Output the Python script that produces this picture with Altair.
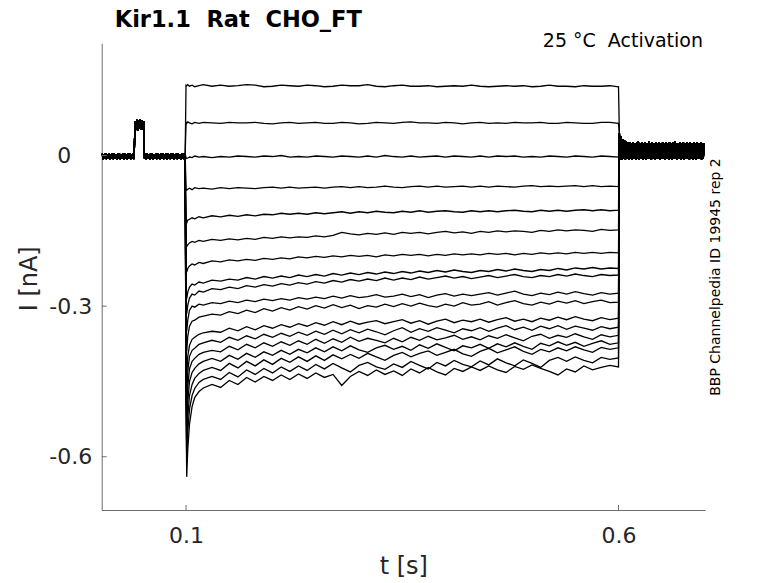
import altair as alt
import pandas as pd

# ---------------- data ----------------
# sample times (s)
T_EARLY = [0.1, 0.1008, 0.102, 0.104, 0.107, 0.110, 0.115, 0.120, 0.130]
T_STEP = T_EARLY + [round(0.14 + 0.01 * i, 3) for i in range(47)]
T_BASE = [round(0.003 + 0.001 * i, 4) for i in range(97)]
T_TAIL = [round(0.601 + 0.001 * i, 4) for i in range(99)]

# holding baseline with test pulse (shared by all sweeps), nA
BASELINE = [
    .004, -.007, .003, -.006, .005, -.007, .003, -.005, .004, -.008,
    .003, -.006, .005, -.007, .004, -.006, .003, -.007, .005, -.006,
    .004, -.007, .003, -.006, .005, -.008, .004, -.006, .003, -.007,
    .004, -.006, .005, -.007, .003, -.006, .004, -.007,
    .068, .052, .071, .050, .069, .053, .072, .051, .070, .052, .068,
    -.006, .004, -.007, .005, -.006, .003, -.008, .004, -.006, .005,
    -.007, .003, -.006, .004, -.007, .005, -.006, .003, -.007, .004,
    -.006, .005, -.007, .003, -.006, .004, -.008, .005, -.006, .003,
    -.007, .004, -.006, .005, -.007, .003, -.006, .004, -.007, .005,
    -.006, .003, -.007, .004, -.006, .005, -.007, .002,
]

# tail after the step (shared), nA
TAIL = [
    .045, -.008, .038, -.009, .033, -.007, .030, -.008, .028, -.006,
    .026, -.008, .027, -.007, .025, -.009, .027, -.006, .024, -.008,
    .026, -.007, .028, -.008, .025, -.006, .027, -.009, .024, -.007,
    .026, -.008, .025, -.006, .028, -.007, .024, -.009, .026, -.006,
    .025, -.008, .027, -.007, .024, -.006, .026, -.009, .025, -.007,
    .027, -.006, .024, -.008, .026, -.007, .025, -.009, .027, -.006,
    .024, -.008, .026, -.007, .028, -.006, .024, -.008, .025, -.007,
    .026, -.009, .024, -.006, .027, -.008, .025, -.007, .026, -.006,
    .024, -.008, .027, -.007, .025, -.009, .026, -.006, .024, -.008,
    .026, -.007, .025, -.006, .027, -.008, .024, -.007, .025,
]

# step currents for each sweep, nA (values at T_STEP)
sweep01 = [.140, .139, .141, .138, .140, .137, .139, .141, .138,
           .140, .138, .139, .141, .140, .137, .138, .140, .139, .138,
           .140, .139, .137, .138, .140, .139, .139, .141, .138, .137,
           .139, .140, .138, .138, .139, .137, .138, .139, .138, .140,
           .138, .137, .138, .139, .138, .139, .137, .138, .140, .138,
           .138, .137, .139, .138, .138, .139, .137]
sweep02 = [.066, .064, .067, .065, .063, .066, .064, .066, .065,
           .064, .066, .065, .065, .066, .064, .063, .065, .066, .064,
           .065, .066, .064, .064, .066, .065, .063, .064, .066, .065,
           .064, .066, .067, .065, .065, .064, .066, .065, .063, .065,
           .066, .064, .065, .064, .066, .065, .065, .066, .064, .064,
           .066, .065, .064, .064, .066, .066, .064]
sweep03 = [-.004, -.006, -.005, -.003, -.004, -.001, -.003, -.002, -.004,
           -.002, -.003, -.001, -.002, -.003, -.001, -.002, .000, -.003, -.002,
           -.003, -.001, -.002, -.003, -.001, -.002, -.003, -.001, -.003, .000,
           -.002, -.003, -.001, -.003, -.002, -.001, -.003, -.001, -.002, -.003,
           -.001, -.003, -.001, -.002, -.001, -.003, -.002, -.003, -.001, -.002,
           -.003, -.001, -.002, -.003, -.001, -.002, -.003]
sweep04 = [-.066, -.069, -.067, -.065, -.068, -.064, -.066, -.065, -.067,
           -.064, -.066, -.064, -.065, -.066, -.064, -.063, -.065, -.063, -.065,
           -.064, -.063, -.065, -.063, -.062, -.064, -.062, -.064, -.063, -.061,
           -.063, -.064, -.062, -.061, -.063, -.061, -.063, -.062, -.061, -.063,
           -.061, -.063, -.061, -.062, -.063, -.061, -.060, -.062, -.061, -.062,
           -.061, -.060, -.062, -.060, -.062, -.061, -.062]
sweep05 = [-.131, -.134, -.129, -.127, -.124, -.126, -.122, -.124, -.120,
           -.122, -.119, -.121, -.118, -.120, -.117, -.118, -.115, -.117, -.115,
           -.117, -.114, -.116, -.114, -.112, -.115, -.112, -.114, -.111, -.113,
           -.114, -.111, -.113, -.110, -.113, -.111, -.110, -.112, -.113, -.110,
           -.112, -.110, -.112, -.110, -.109, -.111, -.112, -.109, -.111, -.109,
           -.111, -.109, -.108, -.110, -.108, -.110, -.109]
sweep06 = [-.176, -.181, -.178, -.174, -.171, -.173, -.169, -.171, -.167,
           -.169, -.166, -.168, -.165, -.167, -.163, -.165, -.162, -.164, -.162,
           -.163, -.160, -.162, -.159, -.153, -.156, -.158, -.155, -.157, -.154,
           -.157, -.153, -.155, -.153, -.156, -.153, -.151, -.154, -.152, -.155,
           -.151, -.153, -.150, -.152, -.150, -.151, -.153, -.149, -.151, -.148,
           -.150, -.148, -.149, -.151, -.147, -.149, -.148]
sweep07 = [-.224, -.232, -.225, -.220, -.216, -.218, -.213, -.215, -.210,
           -.212, -.208, -.210, -.207, -.209, -.205, -.207, -.204, -.206, -.202,
           -.204, -.201, -.203, -.200, -.202, -.199, -.201, -.199, -.202, -.198,
           -.200, -.197, -.199, -.197, -.200, -.197, -.199, -.196, -.198, -.196,
           -.198, -.195, -.197, -.195, -.198, -.195, -.197, -.194, -.196, -.194,
           -.196, -.193, -.195, -.193, -.195, -.193, -.194]
sweep08 = [-.266, -.285, -.272, -.262, -.256, -.258, -.252, -.254, -.248,
           -.250, -.246, -.248, -.243, -.246, -.241, -.244, -.240, -.243, -.238,
           -.241, -.237, -.240, -.235, -.238, -.234, -.237, -.233, -.236, -.232,
           -.235, -.231, -.234, -.230, -.233, -.229, -.232, -.228, -.231, -.233,
           -.229, -.231, -.227, -.230, -.226, -.229, -.231, -.227, -.229, -.225,
           -.228, -.224, -.226, -.223, -.226, -.224, -.225]
sweep09 = [-.290, -.315, -.298, -.284, -.276, -.278, -.270, -.272, -.265,
           -.267, -.262, -.265, -.259, -.262, -.257, -.260, -.255, -.258, -.253,
           -.256, -.251, -.254, -.249, -.252, -.247, -.250, -.246, -.249, -.244,
           -.248, -.244, -.247, -.242, -.246, -.243, -.240, -.244, -.241, -.245,
           -.242, -.239, -.243, -.240, -.237, -.241, -.243, -.239, -.241, -.237,
           -.240, -.236, -.239, -.241, -.237, -.239, -.238]
sweep10 = [-.318, -.350, -.328, -.308, -.300, -.302, -.296, -.298, -.293,
           -.295, -.290, -.293, -.288, -.291, -.286, -.289, -.285, -.288, -.283,
           -.286, -.282, -.285, -.280, -.284, -.279, -.283, -.281, -.277, -.282,
           -.280, -.276, -.281, -.277, -.283, -.278, -.275, -.280, -.276, -.279,
           -.276, -.273, -.278, -.274, -.270, -.276, -.279, -.274, -.277, -.272,
           -.276, -.271, -.275, -.278, -.273, -.276, -.274]
sweep11 = [-.350, -.390, -.360, -.340, -.330, -.328, -.322, -.320, -.316,
           -.318, -.311, -.315, -.308, -.313, -.305, -.310, -.303, -.308, -.301,
           -.306, -.299, -.304, -.297, -.303, -.298, -.305, -.299, -.302, -.296,
           -.301, -.295, -.300, -.294, -.299, -.302, -.296, -.300, -.293, -.298,
           -.296, -.291, -.298, -.293, -.289, -.295, -.298, -.292, -.296, -.290,
           -.294, -.289, -.295, -.291, -.288, -.293, -.292]
sweep12 = [-.380, -.440, -.400, -.378, -.366, -.362, -.356, -.353, -.350,
           -.352, -.344, -.349, -.341, -.347, -.339, -.344, -.337, -.342, -.335,
           -.340, -.333, -.338, -.331, -.337, -.330, -.336, -.332, -.329, -.335,
           -.331, -.327, -.334, -.329, -.336, -.330, -.326, -.333, -.328, -.331,
           -.326, -.332, -.327, -.323, -.330, -.326, -.331, -.324, -.328, -.322,
           -.327, -.321, -.326, -.329, -.323, -.327, -.324]
sweep13 = [-.400, -.480, -.430, -.400, -.388, -.384, -.376, -.373, -.368,
           -.372, -.362, -.368, -.359, -.365, -.356, -.362, -.354, -.360, -.352,
           -.358, -.350, -.356, -.348, -.355, -.347, -.353, -.346, -.351, -.357,
           -.349, -.343, -.352, -.345, -.350, -.343, -.348, -.353, -.345, -.349,
           -.343, -.350, -.344, -.339, -.347, -.342, -.348, -.340, -.345, -.339,
           -.346, -.340, -.344, -.348, -.341, -.345, -.342]
sweep14 = [-.420, -.520, -.460, -.425, -.410, -.404, -.396, -.392, -.388,
           -.391, -.380, -.387, -.376, -.383, -.373, -.380, -.371, -.378, -.369,
           -.376, -.366, -.374, -.365, -.372, -.362, -.370, -.364, -.368, -.373,
           -.364, -.371, -.362, -.368, -.360, -.367, -.363, -.358, -.366, -.361,
           -.367, -.359, -.364, -.357, -.363, -.369, -.360, -.356, -.364, -.358,
           -.362, -.355, -.361, -.366, -.357, -.361, -.358]
sweep15 = [-.440, -.550, -.490, -.450, -.432, -.424, -.415, -.410, -.404,
           -.410, -.398, -.406, -.394, -.402, -.391, -.398, -.388, -.396, -.386,
           -.393, -.383, -.391, -.381, -.389, -.379, -.387, -.392, -.383, -.378,
           -.386, -.380, -.388, -.377, -.384, -.375, -.382, -.389, -.379, -.383,
           -.376, -.384, -.375, -.381, -.373, -.380, -.386, -.374, -.379, -.371,
           -.378, -.372, -.380, -.374, -.369, -.376, -.373]
sweep16 = [-.460, -.580, -.520, -.478, -.456, -.444, -.434, -.428, -.422,
           -.428, -.414, -.423, -.410, -.419, -.407, -.416, -.404, -.412, -.401,
           -.410, -.399, -.408, -.397, -.405, -.396, -.404, -.394, -.401, -.408,
           -.398, -.392, -.401, -.394, -.389, -.398, -.392, -.386, -.395, -.400,
           -.390, -.384, -.393, -.387, -.381, -.390, -.396, -.386, -.391, -.383,
           -.389, -.381, -.387, -.392, -.382, -.386, -.383]
sweep17 = [-.480, -.610, -.550, -.505, -.478, -.464, -.452, -.446, -.440,
           -.446, -.432, -.441, -.427, -.436, -.424, -.433, -.421, -.430, -.419,
           -.428, -.416, -.425, -.414, -.423, -.431, -.418, -.412, -.421, -.426,
           -.415, -.422, -.410, -.418, -.425, -.412, -.419, -.408, -.416, -.421,
           -.409, -.417, -.405, -.413, -.419, -.407, -.414, -.422, -.408, -.402,
           -.410, -.401, -.408, -.413, -.402, -.406, -.403]
sweep18 = [-.500, -.640, -.585, -.535, -.500, -.482, -.470, -.463, -.456,
           -.462, -.448, -.456, -.442, -.451, -.440, -.448, -.437, -.446, -.435,
           -.444, -.433, -.442, -.436, -.458, -.440, -.430, -.438, -.427, -.436,
           -.429, -.438, -.425, -.433, -.422, -.431, -.437, -.424, -.430, -.421,
           -.428, -.419, -.427, -.432, -.420, -.426, -.417, -.424, -.430, -.437,
           -.425, -.431, -.419, -.427, -.422, -.418, -.421]

SWEEPS = [sweep01, sweep02, sweep03, sweep04, sweep05, sweep06, sweep07, sweep08, sweep09,
          sweep10, sweep11, sweep12, sweep13, sweep14, sweep15, sweep16, sweep17, sweep18]

XTICKS = [0.1, 0.6]
XTICK_LABELS = ["0.1", "0.6"]
YTICKS = [0, -0.3, -0.6]
# the zero label sits further left in the reference: pad it with no-break spaces,
# closed by a zero-width space so the padding is not trimmed away
YTICK_LABELS = ["0\u00a0\u00a0\u00a0\u200b", "-0.3", "-0.6"]

TITLE = "Kir1.1\u00a0 Rat\u00a0 CHO_FT"
CONDITION = "25 °C\u00a0 Activation"
SOURCE_ID = "BBP Channelpedia ID 19945 rep 2"

# ---------------- build table ----------------
rows = []
for k, sw in enumerate(SWEEPS):
    for t, v in zip(T_BASE, BASELINE):
        rows.append({"sweep": k, "t": t, "i": v})
    for t, v in zip(T_STEP, sw):
        rows.append({"sweep": k, "t": t, "i": v})
    for t, v in zip(T_TAIL, TAIL):
        rows.append({"sweep": k, "t": t, "i": v})
df = pd.DataFrame(rows)


def label_expr(vals, labs):
    parts = [f"abs(datum.value - ({v})) < 1e-9 ? '{l}'" for v, l in zip(vals, labs)]
    return " : ".join(parts) + " : ''"


FONT = "DejaVu Sans"
AXIS_COLOR = "#6e6e6e"
TEXT_COLOR = "#262626"
W, H = 603.3, 466.7

x_scale = alt.Scale(domain=[0.0025, 0.7], nice=False, zero=False)
y_scale = alt.Scale(domain=[-0.706, 0.2235], nice=False, zero=False)

x_axis = alt.Axis(
    values=XTICKS, labelExpr=label_expr(XTICKS, XTICK_LABELS), ticks=False, grid=False,
    domainColor=AXIS_COLOR, domainWidth=1, labelFont=FONT, labelFontSize=22,
    labelColor=TEXT_COLOR, labelPadding=15, labelBaseline="top",
    title="t [s]", titleFont=FONT, titleFontSize=24, titleFontWeight="normal",
    titleColor=TEXT_COLOR, titleX=W / 2, titleY=63.6, titleAlign="center",
    titleBaseline="alphabetic",
)
y_axis = alt.Axis(
    values=YTICKS, labelExpr=label_expr(YTICKS, YTICK_LABELS), ticks=False, grid=False,
    domainColor=AXIS_COLOR, domainWidth=1, labelFont=FONT, labelFontSize=22,
    labelColor=TEXT_COLOR, labelPadding=10,
    title="I [nA]", titleFont=FONT, titleFontSize=24, titleFontWeight="normal",
    titleColor=TEXT_COLOR, titleX=-65.5, titleY=235, titleAngle=270,
    titleAlign="center", titleBaseline="alphabetic",
)

lines = alt.Chart(df).mark_line(color="black", strokeWidth=1.3, clip=True).encode(
    x=alt.X("t:Q", scale=x_scale, axis=x_axis),
    y=alt.Y("i:Q", scale=y_scale, axis=y_axis),
    detail="sweep:N",
)

ytick_marks = alt.Chart(pd.DataFrame({"v": YTICKS})).mark_rule(
    color=AXIS_COLOR, strokeWidth=1
).encode(
    y=alt.Y("v:Q", scale=y_scale, axis=y_axis),
    x=alt.value(0), x2=alt.value(5),
)
xtick_marks = alt.Chart(pd.DataFrame({"v": XTICKS})).mark_rule(
    color=AXIS_COLOR, strokeWidth=1
).encode(
    x=alt.X("v:Q", scale=x_scale, axis=x_axis),
    y=alt.value(H), y2=alt.value(H - 5),
)

title_text = alt.Chart(pd.DataFrame({"s": [TITLE]})).mark_text(
    font=FONT, fontSize=22.5, fontWeight="bold", color="black", align="left",
    baseline="alphabetic"
).encode(text="s:N", x=alt.value(13), y=alt.value(-16.8))

cond_text = alt.Chart(pd.DataFrame({"s": [CONDITION]})).mark_text(
    font=FONT, fontSize=19, color="black", align="right", baseline="alphabetic"
).encode(text="s:N", x=alt.value(W - 2), y=alt.value(4))

id_text = alt.Chart(pd.DataFrame({"s": [SOURCE_ID]})).mark_text(
    font=FONT, fontSize=14, color="black", align="center", baseline="middle", angle=270
).encode(text="s:N", x=alt.value(614.3), y=alt.value(233.7))

chart = alt.layer(lines, ytick_marks, xtick_marks, title_text, cond_text, id_text).properties(
    width=W,
    height=H,
    padding={"left": 93.7, "top": 35.3, "right": 60, "bottom": 70},
    autosize=alt.AutoSizeParams(type="none"),
    background="white",
).configure_view(stroke=None)

chart.save("out.html", embed_options={"renderer": "svg", "actions": False})
